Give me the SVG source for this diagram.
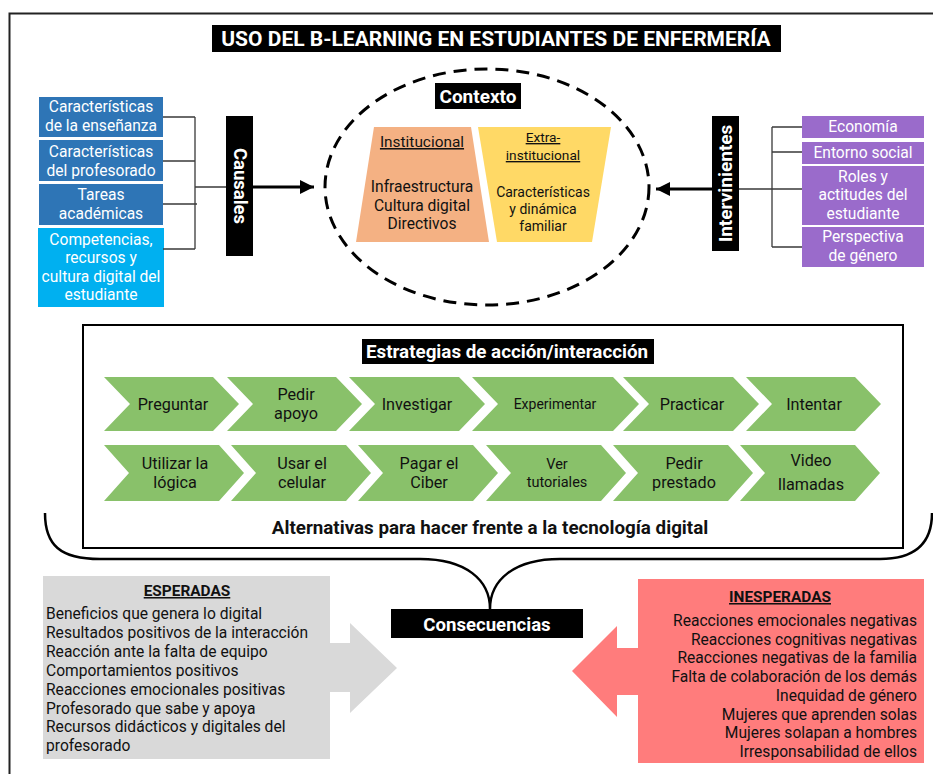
<svg xmlns="http://www.w3.org/2000/svg" width="933" height="774" viewBox="0 0 933 774">
<defs>
<style>
text{font-family:Roboto,"Liberation Sans",sans-serif;}
.w{fill:#fff;}
.k{fill:#111;}
.c{text-anchor:middle;}
.b{font-weight:bold;}
.lbl{fill:#000;}
.ln{stroke:#3a3a3a;stroke-width:1.3;fill:none;}
.ar{stroke:#000;stroke-width:3;fill:none;}
.chev{fill:#89C16A;}
.u{text-decoration:underline;}
</style>
<marker id="ah" markerUnits="userSpaceOnUse" markerWidth="14" markerHeight="14" refX="14" refY="7" orient="auto">
<path d="M0,0 L14,7 L0,14 z" fill="#000"/>
</marker>
</defs>
<rect width="933" height="774" fill="#fff"/>
<rect x="9.5" y="13.5" width="940" height="790" fill="none" stroke="#222" stroke-width="2"/>

<g id="title">
<rect class="lbl" x="212" y="25" width="569" height="27"/>
<text class="w c b" x="496" y="46" font-size="21">USO DEL B-LEARNING EN ESTUDIANTES DE ENFERMERÍA</text>
</g>

<g id="causes" font-size="15.6">
<rect x="39" y="97" width="124" height="40" fill="#2E75B6"/>
<text class="w c" x="101" y="112">Características</text>
<text class="w c" x="101" y="131">de la enseñanza</text>
<rect x="39" y="140" width="124" height="41" fill="#2E75B6"/>
<text class="w c" x="101" y="157">Características</text>
<text class="w c" x="101" y="176">del profesorado</text>
<rect x="39" y="184" width="124" height="41" fill="#2E75B6"/>
<text class="w c" x="101" y="199.5">Tareas</text>
<text class="w c" x="101" y="218.5">académicas</text>
<rect x="38" y="228" width="126" height="79" fill="#00B0F0"/>
<text class="w c" x="101" y="244.5">Competencias,</text>
<text class="w c" x="101" y="263">recursos y</text>
<text class="w c" x="101" y="281.5">cultura digital del</text>
<text class="w c" x="101" y="300">estudiante</text>
</g>

<g id="causales">
<rect class="lbl" x="226" y="116" width="27" height="140"/>
<text class="w c b" font-size="18.5" transform="translate(240,186) rotate(90)" y="6.5">Causales</text>
</g>

<g id="contexto">
<ellipse cx="487" cy="187" rx="162" ry="118" fill="none" stroke="#000" stroke-width="3" stroke-dasharray="13 8"/>
<rect class="lbl" x="435" y="83" width="86" height="26"/>
<text class="w c b" x="478" y="103" font-size="19">Contexto</text>
<polygon points="374,127 471,127 489,242 356,242" fill="#F4B183"/>
<text class="k c u" x="422" y="147" font-size="15.4">Institucional</text>
<text class="k c" x="422" y="192" font-size="15.6">Infraestructura</text>
<text class="k c" x="422" y="210.5">
<tspan font-size="15.6">Cultura digital</tspan></text>
<text class="k c" x="422" y="229" font-size="15.6">Directivos</text>
<polygon points="478,127 611,127 592,242 497,242" fill="#FFD966"/>
<text class="k c u" x="543" y="142" font-size="13.7">Extra-</text>
<text class="k c u" x="543" y="160" font-size="13.7">institucional</text>
<text class="k c" x="543" y="197" font-size="14">Características</text>
<text class="k c" x="543" y="214" font-size="14">y dinámica</text>
<text class="k c" x="543" y="231" font-size="14">familiar</text>
</g>

<g id="intervinientes">
<rect class="lbl" x="712" y="116" width="27" height="135"/>
<text class="w c b" font-size="19" transform="translate(725.5,183.5) rotate(-90)" y="6.5">Intervinientes</text>
</g>

<g id="factors" font-size="15.6">
<rect x="802" y="116" width="122" height="22" fill="#9A6BCB"/>
<text class="w c" x="863" y="132">Economía</text>
<rect x="802" y="142" width="122" height="22" fill="#9A6BCB"/>
<text class="w c" x="863" y="158">Entorno social</text>
<rect x="802" y="166" width="122" height="59" fill="#9A6BCB"/>
<text class="w c" x="863" y="181.5">Roles y</text>
<text class="w c" x="863" y="200">actitudes del</text>
<text class="w c" x="863" y="218.5">estudiante</text>
<rect x="802" y="227" width="122" height="40" fill="#9A6BCB"/>
<text class="w c" x="863" y="242">Perspectiva</text>
<text class="w c" x="863" y="261">de género</text>
</g>

<g id="connectors">
<path class="ln" d="M163,117 H195 M163,161 H195 M163,204 H197 M163,249 H195 M195,117 V249 M195,187 H226"/>
<line class="ar" x1="253" y1="187" x2="314" y2="187" marker-end="url(#ah)"/>
<path class="ln" d="M802,127 H772 M802,152 H772 M802,189 H739 M802,247 H772 M772,127 V247"/>
<line class="ar" x1="712" y1="189" x2="656" y2="189" marker-end="url(#ah)"/>
<path d="M45,513 C45,545 60,559 100,559 L420,559 C466,559 490,580 490,609 C490,580 514,559 560,559 L880,559 C916,559 932,542 932,513" fill="none" stroke="#000" stroke-width="2.5"/>
</g>

<g id="estrategias">
<rect x="83" y="325" width="820" height="223" fill="none" stroke="#000" stroke-width="2"/>
<rect class="lbl" x="362" y="339" width="292" height="25"/>
<text class="w c b" x="507" y="358" font-size="18.8">Estrategias de acción/interacción</text>
<g font-size="16.2">
<polygon class="chev" points="104,377 213,377 239,404 213,431 104,431 130,404"/>
<text class="k c" x="173" y="410">Preguntar</text>
<polygon class="chev" points="227,377 336,377 362,404 336,431 227,431 253,404"/>
<text class="k c" x="296" y="399.5">Pedir</text>
<text class="k c" x="296" y="418.5">apoyo</text>
<polygon class="chev" points="349,377 459,377 485,404 459,431 349,431 375,404"/>
<text class="k c" x="417" y="410">Investigar</text>
<polygon class="chev" points="472,377 613,377 639,404 613,431 472,431 498,404"/>
<text class="k c" x="555" y="409" font-size="14">Experimentar</text>
<polygon class="chev" points="623,377 733,377 759,404 733,431 623,431 649,404"/>
<text class="k c" x="692" y="410">Practicar</text>
<polygon class="chev" points="746,377 855,377 881,404 855,431 746,431 772,404"/>
<text class="k c" x="814" y="410">Intentar</text>

<polygon class="chev" points="104,445 219,445 244,473 219,501 104,501 129,473"/>
<text class="k c" x="175" y="468.5">Utilizar la</text>
<text class="k c" x="175" y="487.5">lógica</text>
<polygon class="chev" points="231,445 346,445 371,473 346,501 231,501 256,473"/>
<text class="k c" x="302" y="468.5">Usar el</text>
<text class="k c" x="302" y="487.5">celular</text>
<polygon class="chev" points="358,445 473,445 498,473 473,501 358,501 383,473"/>
<text class="k c" x="429" y="468.5">Pagar el</text>
<text class="k c" x="429" y="487.5">Ciber</text>
<polygon class="chev" points="486,445 601,445 626,473 601,501 486,501 511,473"/>
<text class="k c" x="557" y="469" font-size="14.5">Ver</text>
<text class="k c" x="557" y="486.5" font-size="14.5">tutoriales</text>
<polygon class="chev" points="613,445 728,445 753,473 728,501 613,501 638,473"/>
<text class="k c" x="684" y="468.5">Pedir</text>
<text class="k c" x="684" y="487.5">prestado</text>
<polygon class="chev" points="740,445 855,445 880,473 855,501 740,501 765,473"/>
<text class="k c" x="811" y="466">Video</text>
<text class="k c" x="811" y="490">llamadas</text>
</g>
<text class="k c b" x="490" y="534" font-size="18.8">Alternativas para hacer frente a la tecnología digital</text>
</g>

<g id="consecuencias">
<rect class="lbl" x="391" y="609" width="192" height="29"/>
<text class="w c b" x="487" y="630.5" font-size="18.6">Consecuencias</text>
</g>

<g id="esperadas">
<polygon points="43,576 330,576 330,643 350,643 350,623 397,668 350,713 350,692 330,692 330,759 43,759" fill="#D9D9D9"/>
<text class="k c b u" x="187" y="596" font-size="15.4">ESPERADAS</text>
<g class="k" font-size="15.6">
<text x="46" y="619">Beneficios que genera lo digital</text>
<text x="46" y="637.9">Resultados positivos de la interacción</text>
<text x="46" y="656.8">Reacción ante la falta de equipo</text>
<text x="46" y="675.7">Comportamientos positivos</text>
<text x="46" y="694.6">Reacciones emocionales positivas</text>
<text x="46" y="713.5">Profesorado que sabe y apoya</text>
<text x="46" y="732.4">Recursos didácticos y digitales del</text>
<text x="46" y="751.3">profesorado</text>
</g>
</g>

<g id="inesperadas">
<polygon points="638,579 924,579 924,763 638,763 638,695 617,695 617,717 572,671 617,626 617,648 638,648" fill="#FF7C7C"/>
<text class="k c b u" x="780" y="602" font-size="15.4">INESPERADAS</text>
<g class="k" font-size="15.6" text-anchor="end">
<text x="917" y="626">Reacciones emocionales negativas</text>
<text x="917" y="644.7">Reacciones cognitivas negativas</text>
<text x="917" y="663.4">Reacciones negativas de la familia</text>
<text x="917" y="682.1">Falta de colaboración de los demás</text>
<text x="917" y="700.8">Inequidad de género</text>
<text x="917" y="719.5">Mujeres que aprenden solas</text>
<text x="917" y="738.2">Mujeres solapan a hombres</text>
<text x="917" y="756.9">Irresponsabilidad de ellos</text>
</g>
</g>
</svg>
